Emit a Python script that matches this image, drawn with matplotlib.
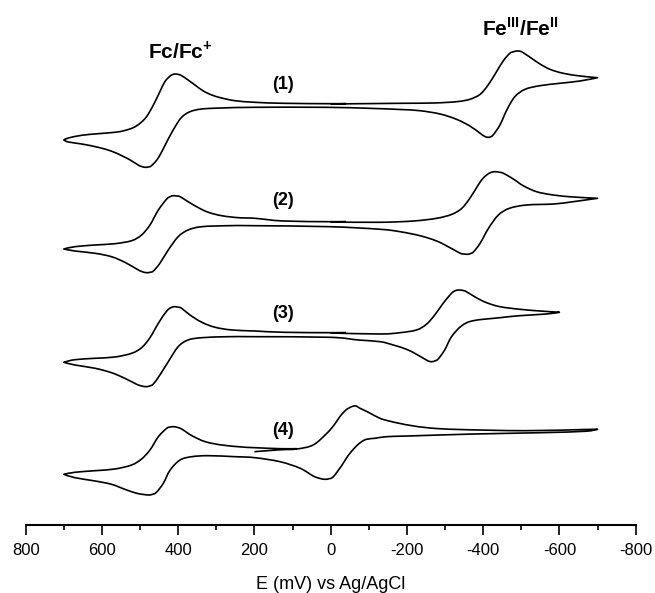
import matplotlib
matplotlib.use('Agg')
from matplotlib import pyplot as plt
from matplotlib.path import Path
from matplotlib.patches import PathPatch

plt.rcParams['font.family'] = ['Liberation Sans', 'DejaVu Sans']
plt.rcParams['mathtext.fontset'] = 'custom'
plt.rcParams['mathtext.rm'] = 'Liberation Sans'
plt.rcParams['mathtext.bf'] = 'Liberation Sans:bold'
plt.rcParams['axes.unicode_minus'] = False

# potential (mV vs Ag/AgCl) and current (a.u.) along each scan
E1 = [0, -182, -269, -330, -365, -392, -413, -435, -453, -470, -480, -488, -497, -505, -527, -549, -575, -610, -654, -700,
      -654, -601, -549, -510, -483, -462, -444, -426, -418, -411, -402, -392, -365, -330, -287, -234, -182, -100, 15,
      199, 286, 338, 369, 391, 408, 426, 443, 456, 471, 479, 487, 496, 505, 526, 548, 574, 610, 653, 688, 700,
      688, 653, 610, 566, 542, 518, 500, 483, 465, 448, 435, 421, 414, 407, 399, 391, 374, 356, 334, 312, 286, 251,
      199, 124, 0, -40]
I1 = [0, 0.7, 1, 2.3, 4.7, 9.7, 19, 32.3, 43.3, 50.7, 52.3, 53, 52.7, 51.3, 45.7, 40, 34.7, 30.7, 28, 26.3,
      23, 20.7, 18.3, 14.7, 7.3, -6, -21, -31, -33, -33.3, -32, -29.3, -22, -15.3, -10, -6.7, -5.5, -4.3, -3.3,
      -3.3, -4, -5, -7.7, -13.3, -22.7, -35, -47.7, -56, -62, -63, -63.3, -62.5, -61, -56, -51.7, -47.3, -43.3, -40, -38, -36,
      -34, -31.3, -29.7, -28.3, -26.7, -23.7, -19.3, -12.7, -1, 12.3, 22.3, 28, 29.5, 30, 29.5, 28.3, 24, 19, 13, 9, 6, 3.3,
      1.7, 0.7, 0.3, 0.5]

E2 = [0, -130, -217, -278, -318, -344, -365, -387, -398, -409, -420, -431, -442, -453, -479, -505, -540, -584, -636, -700,
      -636, -585, -514, -469, -440, -414, -392, -375, -367, -359, -350, -340, -313, -278, -234, -182, -130, 2,
      199, 269, 338, 374, 400, 426, 448, 465, 474, 483, 496, 509, 540, 575, 618, 671, 700,
      671, 618, 566, 522, 496, 474, 452, 430, 420, 413, 404, 395, 374, 347, 321, 286, 242, 199, 124, 0, -40]
I2 = [0, -0.3, 1, 3.7, 7.7, 13.7, 23.7, 37, 43, 47, 49.5, 50.3, 49.8, 48.7, 43, 36.3, 30.3, 27, 25, 23.7,
      20.3, 18, 17, 13.7, 7, -6.3, -21.3, -29.7, -31.5, -32.3, -32, -31.3, -25.7, -19, -13.7, -9.7, -7.3, -4.7,
      -3.7, -3.7, -4.7, -8, -14.7, -28, -41.3, -49, -50.3, -50.7, -49.5, -47, -40.3, -34.7, -31.3, -29, -27,
      -24.7, -23, -21.7, -18.7, -13, -3, 12, 23, 25.5, 26.3, 26, 25.3, 20.3, 14.3, 9.7, 6.3, 4.3, 3.7, 1, 0.3, 0.5]

E3 = [0, -130, -182, -225, -251, -273, -295, -317, -327, -337, -347, -356, -382, -409, -444, -496, -549, -600,
      -566, -496, -444, -374, -343, -317, -299, -282, -273, -265, -258, -251, -225, -199, -164, -130, -72, 2,
      199, 269, 338, 374, 400, 426, 448, 465, 475, 485, 497, 509, 540, 575, 618, 671, 700,
      671, 618, 566, 522, 496, 474, 452, 430, 418, 410, 400, 391, 369, 338, 303, 259, 199, 124, 0, -40]
I3 = [0, -1, 0.3, 3, 8.7, 18, 29.7, 39.7, 42.3, 43, 42.5, 41.3, 35.3, 30.3, 26.3, 23.7, 22, 20.7,
      19, 17.3, 15.3, 12.3, 7, -3.7, -17, -26, -28, -28.7, -28.3, -27, -21.3, -16.3, -12, -8.7, -7, -4.3,
      -3.7, -3.7, -4.7, -7, -13.7, -28.7, -42, -51, -53, -53.7, -52.8, -51.3, -45.3, -39.7, -35.3, -32, -29.3,
      -26.7, -25.3, -24, -20.3, -14.7, -4.7, 9.7, 22, 25.5, 26.3, 25.8, 24.7, 18, 10.7, 5.7, 3, 2, 0.7, 0.3, 0.5]

E4 = [200, 133, 89, 46, 10, -10, -24, -40, -55, -66, -77, -100, -129, -155, -182, -210, -260, -335, -510, -667, -700,
      -667, -553, -378, -204, -147, -116, -94, -80, -65, -45, -30, -7, 5, 15, 28, 46, 80, 133,
      199, 251, 321, 364, 395, 421, 439, 457, 469, 478, 490, 509, 540, 575, 618, 671, 700,
      671, 618, 566, 522, 496, 474, 452, 430, 420, 413, 404, 391, 364, 329, 286, 233, 199, 133, 89]
I4 = [-2.7, -0.8, 0, 4, 15.7, 24.5, 32.3, 39, 42.3, 43, 40.7, 36.5, 30.7, 27.8, 25.5, 23.5, 21, 19.5, 18.3, 19.5, 19.7,
      17.7, 16.3, 15, 13, 12.3, 10.7, 9.7, 7, 2, -7, -16, -27.7, -29.8, -30.3, -29.5, -27, -19.3, -12.7,
      -8.7, -7.7, -6.7, -7.7, -11, -21, -34.3, -43.3, -45.5, -46, -45.5, -44.3, -40.3, -35.3, -32, -28.7, -25.3,
      -23.3, -21.7, -20, -16, -10, -1, 12.3, 20.7, 22, 22.3, 21.8, 20, 13.3, 7.3, 4, 2, 1.3, 0.3, 0.3]

scans = [(E1, I1), (E2, I2), (E3, I3), (E4, I4)]
labels = ['(1)', '(2)', '(3)', '(4)']

# vertical stacking of the four voltammograms
offsets = [-104, -222, -333, -449]
label_y = [-85, -201, -314, -431]


def smooth_path(E, I):
	# bezier curve through the read points, kept sharp at the switching potentials
	verts = [(E[0], I[0])]
	codes = [Path.MOVETO]
	cuts = [0] + [k for k in range(1, len(E) - 1) if (E[k] - E[k-1]) * (E[k+1] - E[k]) < 0] + [len(E) - 1]
	for a, b in zip(cuts[:-1], cuts[1:]):
		pts = list(zip(E[a:b+1], I[a:b+1]))
		for j in range(len(pts) - 1):
			p0 = pts[j-1] if j > 0 else pts[j]
			p1, p2 = pts[j], pts[j+1]
			p3 = pts[j+2] if j + 2 < len(pts) else pts[j+1]
			c1 = (p1[0] + (p2[0] - p0[0]) / 6, p1[1] + (p2[1] - p0[1]) / 6)
			c2 = (p2[0] - (p3[0] - p1[0]) / 6, p2[1] - (p3[1] - p1[1]) / 6)
			verts += [c1, c2, p2]
			codes += [Path.CURVE4] * 3
	return Path(verts, codes)


fig = plt.figure(figsize=(6.55, 5.93), dpi=100)
ax = fig.add_axes([0.0392, 0.1147, 0.9313, 0.8853])

for (E, I), off, lab, ly in zip(scans, offsets, labels, label_y):
	p = smooth_path(E, [i + off for i in I])
	ax.add_patch(PathPatch(p, fill=False, edgecolor='black', lw=1.2, joinstyle='round'))
	ax.text(125, ly, lab, fontsize=13, fontweight='bold', ha='center', va='center')

ax.text(395, -51, r'Fc/Fc$^{\mathbf{+}}$', fontsize=15, fontweight='bold', ha='center', va='center')
ax.text(-499, -29, r'Fe$^{\mathbf{III}}$/Fe$^{\mathbf{II}}$', fontsize=15, fontweight='bold', ha='center', va='center')

ax.set_xlim(800, -800)
ax.set_ylim(-525, 0)
ax.set_xticks(range(800, -801, -200))
ax.set_xticks(range(700, -800, -200), minor=True)
for s in ['left', 'right', 'top']:
	ax.spines[s].set_visible(False)
ax.spines['bottom'].set_linewidth(1.5)
ax.set_yticks([])
ax.tick_params(axis='x', which='major', direction='out', length=7, width=1.2, labelsize=12, pad=6)
ax.tick_params(axis='x', which='minor', direction='out', length=3.5, width=1.2)
ax.set_xlabel('E (mV) vs Ag/AgCl', fontsize=13, labelpad=13)

plt.savefig('out.png', dpi=100)
